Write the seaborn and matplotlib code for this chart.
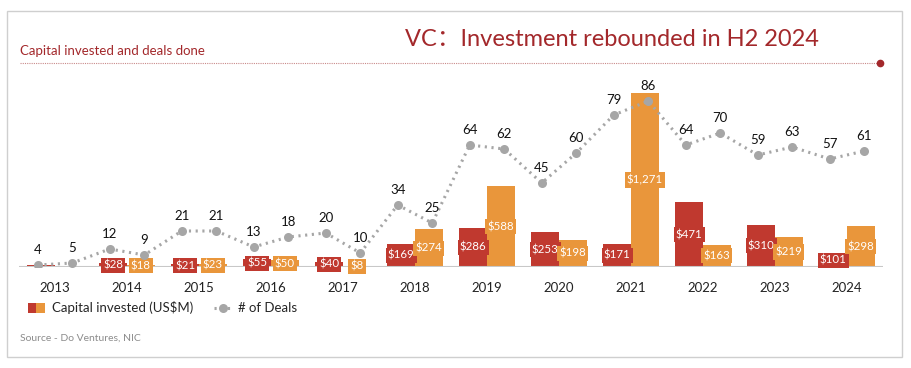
import numpy as np
import pandas as pd
import matplotlib.pyplot as plt
import seaborn as sns
from matplotlib.patches import Patch, Rectangle
from matplotlib.lines import Line2D
from matplotlib.legend_handler import HandlerTuple

# data
years = ["2013", "2014", "2015", "2016", "2017", "2018",
         "2019", "2020", "2021", "2022", "2023", "2024"]
capital_h1 = [12, 28, 21, 55, 40, 169, 286, 253, 171, 471, 310, 101]
capital_h2 = [5, 18, 23, 50, 8, 274, 588, 198, 1271, 163, 219, 298]
deals_h1 = [4, 12, 21, 13, 20, 34, 64, 45, 79, 64, 59, 57]
deals_h2 = [5, 9, 21, 18, 10, 25, 62, 60, 86, 70, 63, 61]
show_label = [False] + [True] * 11

RED = "#C0392F"
ORANGE = "#E9963B"
GRAY = "#A6A6A6"
DARKRED = "#A3282B"

sns.set_theme(style="white")
plt.rcParams["font.family"] = ["Lato", "DejaVu Sans"]

df = pd.DataFrame({
    "year": years * 2,
    "half": ["H1"] * len(years) + ["H2"] * len(years),
    "value": capital_h1 + capital_h2,
})

W, H = 911, 368
fig = plt.figure(figsize=(W / 100, H / 100), dpi=100)
ax = fig.add_axes([19 / W, (H - 267) / H, 864 / W, 187 / H])

sns.barplot(data=df, x="year", y="value", hue="half", palette=[RED, ORANGE],
            saturation=1, width=0.77, gap=0, errorbar=None, legend=False, ax=ax,
            linewidth=0)
ax.set_ylim(0, 1365)
ax.set_xlim(-0.5, 11.5)
ax.axhline(0, color="#C8C8C8", lw=1.5, zorder=5)

# bar value labels, boxed in the bar colour
for cont, color, vals in zip(ax.containers, [RED, ORANGE], [capital_h1, capital_h2]):
    for bar, v, show in zip(cont, vals, show_label):
        if not show:
            continue
        ax.text(bar.get_x() + bar.get_width() / 2, v / 2, f"${v:,}",
                ha="center", va="center", color="white", fontsize=8.3, zorder=6,
                bbox=dict(boxstyle="square,pad=0.18", fc=color, ec="none"))

ax.set_xticks(range(len(years)))
ax.set_xticklabels(years, fontsize=9.5, color="#222222")
ax.tick_params(axis="x", length=0, pad=11)
ax.set_yticks([])
ax.set_xlabel("")
ax.set_ylabel("")
sns.despine(ax=ax, left=True, bottom=True)

# deals line on a twin axis
ax2 = ax.twinx()
idx = np.arange(len(years))
xs = np.column_stack([idx - 0.24, idx + 0.24]).ravel()
deals = np.column_stack([deals_h1, deals_h2]).ravel()
sns.lineplot(x=xs, y=deals, ax=ax2, color=GRAY, lw=2.2, linestyle=(0, (0.7, 1.5)),
             marker="o", markersize=6.5, markeredgecolor=GRAY, markeredgewidth=0)
for x, v in zip(xs, deals):
    ax2.annotate(str(v), (x, v), xytext=(0, 10.5), textcoords="offset points",
                 ha="center", va="center", fontsize=9.5, color="#111111")
ax2.set_ylim(3, 96.5)
ax2.set_yticks([])
ax2.set_ylabel("")
sns.despine(ax=ax2, left=True, bottom=True, right=True)

# header
fig.text(405 / W, 1 - 40 / H, "VC：Investment rebounded in H2 2024", fontsize=17,
         color=DARKRED, ha="left", va="center",
         family=["Lato", "Noto Sans CJK SC", "DejaVu Sans"])
fig.text(20 / W, 1 - 51 / H, "Capital invested and deals done", fontsize=9.5,
         color=DARKRED, ha="left", va="center")
fig.add_artist(Line2D([20 / W, 880 / W], [1 - 63 / H, 1 - 63 / H], color="#C98A8A",
                      lw=0.8, linestyle=(0, (1, 1))))
fig.add_artist(Line2D([880 / W], [1 - 63 / H], marker="o", ms=4.5, color=DARKRED))

# legend
handles = [(Patch(fc=RED, ec="none"), Patch(fc=ORANGE, ec="none")),
           Line2D([], [], color=GRAY, lw=2.2, linestyle=(0, (0.7, 1.5)),
                  marker="o", markersize=6.5, markeredgewidth=0)]
fig.legend(handles, ["Capital invested (US$M)", "# of Deals"],
           handler_map={tuple: HandlerTuple(ndivide=None, pad=0)},
           loc="center left", bbox_to_anchor=(16 / W, 1 - 308 / H), ncol=2,
           frameon=False, fontsize=9.5, handlelength=1.3, handletextpad=0.5,
           columnspacing=1.6)

fig.text(20 / W, 1 - 338 / H, "Source - Do Ventures, NIC", fontsize=7.5,
         color="#8C8C8C", ha="left", va="center")

# outer frame
fig.patches.append(Rectangle((7 / W, 11 / H), 895 / W, (357 - 11) / H,
                             transform=fig.transFigure, fill=False,
                             ec="#CFCFCF", lw=1))

fig.savefig("out.png", dpi=100)
